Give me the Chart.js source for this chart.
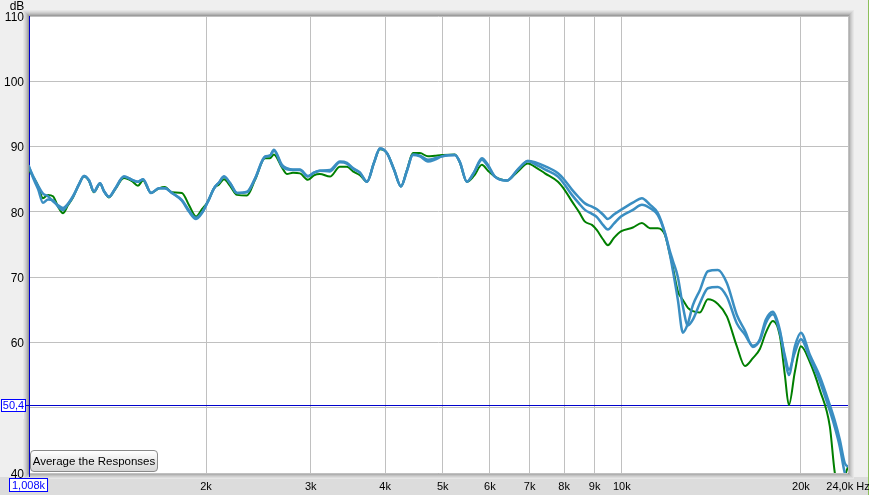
<!DOCTYPE html>
<html lang="en">
<head>
    <meta charset="UTF-8">
    <title>Frequency response</title>
    <script src="https://cdn.jsdelivr.net/npm/chart.js"></script>
    <style>
        html, body {
            margin: 0;
            padding: 0;
            background-color: #efefef;
            overflow: hidden;
            font-family: "Liberation Sans", Arial, sans-serif;
        }

        .wrap {
            position: relative;
            width: 869px;
            height: 495px;
        }

        canvas {
            position: absolute;
            left: 0;
            top: 0;
        }

        /* кнопка усереднення */
        .avg-btn {
            position: absolute;
            left: 30px;
            top: 450px;
            width: 128px;
            height: 22px;
            padding: 0;
            white-space: nowrap;
            font-family: "Liberation Sans", Arial, sans-serif;
            font-size: 11.5px;
            color: #000;
            border: 1px solid #8a8a8a;
            border-radius: 4px;
            background: linear-gradient(#ffffff, #e6e6e6 60%, #d6d6d6);
        }
    </style>
</head>
<body>

<div class="wrap">
    <canvas id="responseChart" width="869" height="495"></canvas>
    <button class="avg-btn">Average the Responses</button>
</div>

<script>
    // Частоти (Гц) та рівні (дБ) трьох вимірів
    var freqs = [1008, 1024, 1044, 1064, 1085, 1106, 1128, 1150, 1172, 1195,
        1223, 1247, 1272, 1296, 1327, 1347, 1374, 1406, 1456, 1502,
        1537, 1567, 1616, 1667, 1706, 1753, 1822, 1873, 1924, 1969,
        2015, 2063, 2103, 2144, 2195, 2255, 2344, 2418, 2513, 2561,
        2601, 2683, 2735, 2800, 2877, 2967, 3037, 3108, 3231, 3358,
        3451, 3532, 3629, 3730, 3831, 3921, 4029, 4140, 4253, 4353,
        4455, 4578, 4722, 4852, 4984, 5242, 5344, 5490, 5641, 5818,
        5955, 6118, 6410, 6688, 6953, 7144, 7425, 7810, 8023, 8244,
        8471, 8670, 8907, 9081, 9295, 9475, 9698, 9965, 10437, 10808,
        11147, 11496, 11812, 12043, 12185, 12424, 12667, 12914, 13166, 13527,
        13954, 14503, 15017, 15610, 16102, 16608, 17064, 17465, 17943, 18436,
        18797, 19090, 19539, 19999, 20706, 21523, 22372, 22808, 23253, 23706,
        24000];

    var greenDb = [86.4, 85.4, 84.0, 82.1, 82.6, 82.4, 80.8, 79.8, 81.0, 82.2,
        84.2, 85.4, 84.7, 83.0, 84.3, 83.2, 82.2, 83.4, 85.2, 84.7,
        84.0, 84.8, 82.9, 83.6, 83.8, 83.0, 82.9, 81.0, 79.3, 80.4,
        81.6, 83.6, 84.2, 85.0, 84.0, 82.6, 82.5, 84.9, 88.2, 88.2,
        88.8, 86.8, 85.8, 86.0, 85.9, 84.9, 85.6, 85.8, 85.4, 86.9,
        86.9, 86.2, 85.6, 84.6, 87.5, 89.6, 89.0, 86.5, 83.9, 86.4,
        89.0, 89.0, 88.5, 88.6, 88.7, 88.8, 87.5, 84.6, 85.5, 87.2,
        86.3, 85.4, 84.8, 86.2, 87.4, 86.9, 85.9, 84.6, 83.3, 81.6,
        80.0, 78.5, 78.0, 77.2, 75.8, 74.9, 76.0, 77.0, 77.6, 78.3,
        77.5, 77.5, 76.5, 73.5, 71.5, 67.8, 66.5, 65.3, 64.8, 64.6,
        66.6, 65.9, 64.0, 59.4, 56.4, 57.6, 59.0, 61.5, 63.3, 61.0,
        55.0, 50.4, 55.5, 59.4, 57.0, 52.7, 47.1, 40.0, 37.5, 39.5,
        41.0];

    var blueADb = [87.0, 85.2, 83.5, 81.4, 81.9, 81.8, 80.8, 80.3, 81.2, 82.4,
        84.2, 85.5, 84.8, 83.1, 84.4, 83.2, 82.3, 83.5, 85.4, 84.9,
        84.6, 85.0, 82.9, 83.6, 83.6, 82.9, 81.7, 80.0, 78.9, 79.8,
        81.6, 83.6, 84.5, 85.4, 84.4, 82.9, 83.1, 85.1, 88.5, 88.6,
        89.5, 87.2, 86.7, 86.5, 86.5, 85.5, 86.0, 86.3, 86.4, 87.7,
        87.5, 86.7, 86.0, 84.6, 87.5, 89.7, 89.0, 86.5, 83.9, 86.3,
        88.7, 88.5, 87.7, 88.0, 88.5, 88.7, 87.6, 84.6, 86.0, 88.2,
        87.2, 85.4, 84.8, 86.5, 87.8, 87.6, 87.0, 85.9, 84.8, 83.4,
        82.2, 81.3, 80.8, 80.4, 79.6, 78.9, 79.6, 80.3, 81.4, 82.1,
        81.1, 79.8, 76.8, 73.5, 71.0, 66.5, 61.5, 62.9, 65.7, 68.0,
        70.9, 71.1, 69.1, 64.2, 61.8, 59.3, 60.5, 63.5, 64.7, 61.9,
        57.5, 55.0, 59.4, 61.5, 58.1, 54.8, 50.4, 48.0, 45.1, 41.5,
        41.0];

    var blueBDb = [86.8, 85.5, 84.0, 82.8, 82.4, 81.6, 81.0, 80.6, 81.2, 82.3,
        84.2, 85.5, 84.8, 83.1, 84.4, 83.2, 82.3, 83.5, 85.4, 84.9,
        84.6, 85.0, 82.9, 83.6, 83.6, 82.9, 81.8, 80.2, 79.1, 79.9,
        81.6, 83.6, 84.5, 85.4, 84.4, 82.9, 83.0, 85.1, 88.4, 88.6,
        89.4, 87.0, 86.5, 86.4, 86.4, 85.4, 86.0, 86.3, 86.2, 87.6,
        87.4, 86.6, 86.0, 84.6, 87.5, 89.7, 89.0, 86.5, 83.9, 86.3,
        88.8, 88.6, 88.0, 88.2, 88.5, 88.7, 87.6, 84.6, 86.0, 88.0,
        87.0, 85.4, 84.8, 86.5, 87.8, 87.3, 86.5, 85.4, 84.1, 82.6,
        81.3, 80.3, 79.7, 79.2, 78.0, 77.3, 78.2, 79.3, 80.3, 81.1,
        80.6, 79.5, 76.8, 74.0, 72.5, 70.0, 65.5, 62.6, 63.5, 66.0,
        68.3, 68.5, 67.0, 62.9, 61.2, 59.5, 60.3, 63.0, 64.3, 61.5,
        58.0, 55.8, 58.5, 60.5, 57.6, 54.0, 49.5, 47.0, 44.0, 40.0,
        39.0];

    // Підписи осей
    var xTickValues = [2000, 3000, 4000, 5000, 6000, 7000, 8000, 9000, 10000, 20000, 24000];
    var xTickLabels = ['2k', '3k', '4k', '5k', '6k', '7k', '8k', '9k', '10k', '20k', '24,0k Hz'];
    var yTickValues = [40, 50, 60, 70, 80, 90, 100, 110];

    // Положення курсора
    var cursorFreq = 1008;
    var cursorDb = 50.4;
    var cursorFreqText = '1,008k';
    var cursorDbText = '50,4';

    function toPoints(values) {
        return freqs.map(function (f, i) {
            return {x: f, y: values[i]};
        });
    }

    var fontFamily = '"Liberation Sans", Arial, sans-serif';

    // Рамка, тінь та біле поле графіка
    var framePlugin = {
        id: 'frame',
        beforeDraw: function (chart) {
            var ctx = chart.ctx;
            var a = chart.chartArea;
            ctx.save();
            ctx.fillStyle = '#efefef';
            ctx.fillRect(0, 0, chart.width, chart.height);
            ctx.fillStyle = '#dcdcdc';
            ctx.fillRect(0, a.bottom + 4, chart.width, chart.height - a.bottom - 4);

            // тінь навколо поля
            var shades = ['#9c9c9c', '#b0b0b0', '#c2c2c2', '#d0d0d0', '#dcdcdc', '#e6e6e6'];
            for (var i = 0; i < shades.length; i++) {
                ctx.strokeStyle = shades[i];
                ctx.lineWidth = 1;
                ctx.strokeRect(a.left - i - 0.5, a.top - i - 0.5,
                    a.right - a.left + 2 * i + 1, a.bottom - a.top + 2 * i + 1);
            }
            ctx.fillStyle = '#ffffff';
            ctx.fillRect(a.left, a.top, a.right - a.left, a.bottom - a.top);

            // правий край вікна
            ctx.fillStyle = '#8cbf5a';
            ctx.fillRect(chart.width - 1, 0, 1, chart.height);
            ctx.restore();
        },
        beforeDatasetsDraw: function (chart) {
            var ctx = chart.ctx;
            var a = chart.chartArea;
            var xs = chart.scales.x;
            var ys = chart.scales.y;
            var cx = Math.round(xs.getPixelForValue(cursorFreq)) + 0.5;
            var cy = Math.round(ys.getPixelForValue(cursorDb)) + 0.5;
            ctx.save();
            ctx.strokeStyle = '#0000cc';
            ctx.lineWidth = 1;
            ctx.beginPath();
            ctx.moveTo(cx, a.top);
            ctx.lineTo(cx, a.bottom + 4);
            ctx.moveTo(26, cy);
            ctx.lineTo(a.right, cy);
            ctx.stroke();
            ctx.restore();
        },
        afterDraw: function (chart) {
            var ctx = chart.ctx;
            var a = chart.chartArea;
            var xs = chart.scales.x;
            var ys = chart.scales.y;
            var cx = xs.getPixelForValue(cursorFreq);
            var cy = Math.round(ys.getPixelForValue(cursorDb));
            ctx.save();
            ctx.textBaseline = 'middle';
            ctx.textAlign = 'center';

            // підпис dB
            ctx.fillStyle = '#000';
            ctx.font = '12px ' + fontFamily;
            ctx.fillText('dB', 17, 7);

            // рамка з рівнем курсора (закриває підпис 50)
            ctx.fillStyle = '#efefef';
            ctx.fillRect(0, cy - 6, a.left - 5, 20);
            ctx.font = '11px ' + fontFamily;
            ctx.fillStyle = '#ffffff';
            ctx.fillRect(1, cy - 6, 25, 13);
            ctx.strokeStyle = '#0000ff';
            ctx.strokeRect(1.5, cy - 5.5, 24, 12);
            ctx.fillStyle = '#0000ff';
            ctx.fillText(cursorDbText, 13.5, cy + 0.5);

            // рамка з частотою курсора
            var w = ctx.measureText(cursorFreqText).width + 6;
            var bx = Math.round(cx - w / 2);
            ctx.fillStyle = '#ffffff';
            ctx.fillRect(bx, a.bottom + 5, w, 14);
            ctx.strokeStyle = '#0000ff';
            ctx.strokeRect(bx + 0.5, a.bottom + 5.5, w - 1, 13);
            ctx.fillStyle = '#0000ff';
            ctx.fillText(cursorFreqText, bx + w / 2, a.bottom + 12.5);
            ctx.restore();
        }
    };

    var lineStyle = {
        pointRadius: 0,
        fill: false,
        cubicInterpolationMode: 'monotone',
        borderJoinStyle: 'round',
        borderCapStyle: 'round'
    };

    var ctx = document.getElementById('responseChart').getContext('2d');
    var responseChart = new Chart(ctx, {
        type: 'line',
        data: {
            datasets: [
                Object.assign({
                    label: 'Вимір 2',
                    data: toPoints(blueADb),
                    borderColor: '#3a8ec2',
                    borderWidth: 2.5
                }, lineStyle),
                Object.assign({
                    label: 'Вимір 3',
                    data: toPoints(blueBDb),
                    borderColor: '#3a8ec2',
                    borderWidth: 2.5
                }, lineStyle),
                Object.assign({
                    label: 'Вимір 1',
                    data: toPoints(greenDb),
                    borderColor: '#007f00',
                    borderWidth: 2
                }, lineStyle)
            ]
        },
        options: {
            responsive: false,
            animation: false,
            layout: {
                autoPadding: false,
                padding: {top: 16, right: 21, bottom: 0, left: 0}
            },
            plugins: {
                legend: {display: false},
                tooltip: {enabled: false}
            },
            scales: {
                x: {
                    type: 'logarithmic',
                    min: 1008,
                    max: 24000,
                    border: {display: false},
                    grid: {
                        color: '#c0c0c0',
                        drawTicks: false
                    },
                    afterBuildTicks: function (axis) {
                        axis.ticks = xTickValues.map(function (v) {
                            return {value: v};
                        });
                    },
                    afterFit: function (axis) {
                        axis.height = 22;
                        axis.paddingLeft = 0;
                        axis.paddingRight = 0;
                    },
                    ticks: {
                        autoSkip: false,
                        maxRotation: 0,
                        padding: 7,
                        color: '#000',
                        font: {family: fontFamily, size: 11},
                        callback: function (value) {
                            var i = xTickValues.indexOf(value);
                            return i >= 0 ? xTickLabels[i] : '';
                        }
                    }
                },
                y: {
                    min: 40,
                    max: 110,
                    border: {display: false},
                    grid: {
                        color: '#c0c0c0',
                        drawTicks: false
                    },
                    afterBuildTicks: function (axis) {
                        axis.ticks = yTickValues.map(function (v) {
                            return {value: v};
                        });
                    },
                    afterFit: function (axis) {
                        axis.width = 29;
                        axis.paddingTop = 0;
                        axis.paddingBottom = 0;
                    },
                    ticks: {
                        padding: 5,
                        labelOffset: 1.5,
                        color: '#000',
                        font: {family: fontFamily, size: 12}
                    }
                }
            }
        },
        plugins: [framePlugin]
    });
</script>
</body>
</html>
